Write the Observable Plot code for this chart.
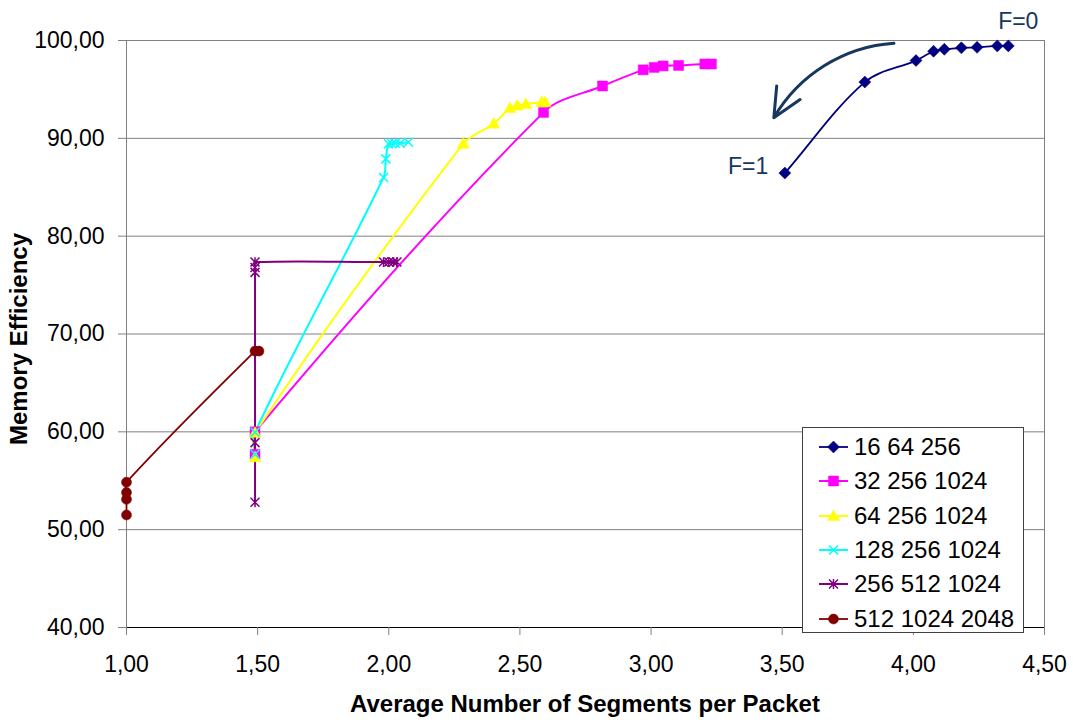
<!DOCTYPE html>
<html><head><meta charset="utf-8">
<script src="https://cdn.jsdelivr.net/npm/d3@7"></script>
<script src="https://cdn.jsdelivr.net/npm/@observablehq/plot@0.6"></script>
<style>
body{margin:0;background:#fff;font-family:"Liberation Sans",Arial,sans-serif;}
#wrap{position:relative;width:1073px;height:722px;overflow:hidden;}
#legend{position:absolute;left:802px;top:427px;width:222px;height:206px;border:1px solid #404040;background:#fff;box-sizing:border-box;}
.lrow{position:absolute;left:0;height:30px;display:flex;align-items:center;font-size:24px;color:#000;white-space:nowrap;}
.xtitle{position:absolute;left:126px;width:918px;top:689px;text-align:center;font-weight:bold;font-size:24px;line-height:30px;}
.ytitle{position:absolute;left:19px;top:339px;transform:translate(-50%,-50%) rotate(-90deg);font-weight:bold;font-size:24px;white-space:nowrap;}
</style></head><body><div id="wrap"></div>
<script>
// ---- data ----
const seriesNames = ["16 64 256", "32 256 1024", "64 256 1024", "128 256 1024", "256 512 1024", "512 1024 2048"];
const seriesColors = ["#000080", "#FF00FF", "#FFFF00", "#00FFFF", "#800080", "#800000"];

const s1X = [3.51, 3.815, 4.01, 4.077, 4.118, 4.183, 4.243, 4.32, 4.362];
const s1Y = [86.45, 95.75, 97.95, 98.9, 99.1, 99.25, 99.3, 99.45, 99.45];
const s2X = [1.49, 1.49, 2.59, 2.815, 2.97, 3.012, 3.046, 3.105, 3.205, 3.23];
const s2Y = [57.7, 60.0, 92.65, 95.35, 97.0, 97.25, 97.4, 97.45, 97.6, 97.6];
const s3X = [1.49, 1.49, 2.284, 2.40, 2.462, 2.49, 2.523, 2.583, 2.596];
const s3Y = [57.4, 59.9, 89.45, 91.5, 93.1, 93.35, 93.5, 93.7, 93.7];
const s4X = [1.49, 1.49, 1.98, 1.989, 1.999, 2.012, 2.024, 2.043, 2.075];
const s4Y = [57.7, 59.95, 86.0, 87.9, 89.45, 89.45, 89.5, 89.5, 89.6];
const s5X = [1.49, 1.49, 1.49, 1.49, 1.49, 1.98, 2.0, 2.018, 2.031];
const s5Y = [52.8, 58.9, 76.3, 76.8, 77.35, 77.35, 77.35, 77.35, 77.35];
const s6X = [1.0, 1.0, 1.0, 1.0, 1.49, 1.505];
const s6Y = [51.5, 53.1, 53.8, 54.85, 68.25, 68.25];

const xTicks = [1.0, 1.5, 2.0, 2.5, 3.0, 3.5, 4.0, 4.5];
const yTicks = [40, 50, 60, 70, 80, 90, 100];

const annoLabels = ["F=0", "F=1"];
const annoX = [4.40, 3.37];
const annoY = [101.9, 87.1];
const arrowFrom = [3.926, 99.72];
const arrowTo = [3.468, 92.1];

const xTitle = "Average Number of Segments per Packet";
const yTitle = "Memory Efficiency";

// ---- Excel-like smoothed line curve (Bezier, tangent scaled by segment length) ----
function curveExcel(context) {
  let pts;
  const K = 1;
  return {
    areaStart() {}, areaEnd() {},
    lineStart() { pts = []; },
    point(x, y) { pts.push([+x, +y]); },
    lineEnd() {
      const n = pts.length;
      if (!n) return;
      context.moveTo(pts[0][0], pts[0][1]);
      if (n === 1) return;
      const tang = pts.map((p, i) => {
        const a = pts[Math.max(0, i - 1)], b = pts[Math.min(n - 1, i + 1)];
        const dx = b[0] - a[0], dy = b[1] - a[1];
        const L = Math.hypot(dx, dy) || 1;
        return [dx / L, dy / L];
      });
      for (let i = 0; i < n - 1; i++) {
        const p = pts[i], q = pts[i + 1];
        const L = Math.hypot(q[0] - p[0], q[1] - p[1]) * K / 3;
        context.bezierCurveTo(p[0] + tang[i][0] * L, p[1] + tang[i][1] * L,
          q[0] - tang[i + 1][0] * L, q[1] - tang[i + 1][1] * L, q[0], q[1]);
      }
    }
  };
}

// ---- symbols (Excel-like markers) ----
const R = size => Math.sqrt(size / Math.PI);
const symDiamond = {draw(c, s){const r=R(s); c.moveTo(0,-r); c.lineTo(r,0); c.lineTo(0,r); c.lineTo(-r,0); c.closePath();}};
const symSquare = {draw(c, s){const r=R(s); c.rect(-r,-r,2*r,2*r);}};
const symTriangle = {draw(c, s){const r=R(s); c.moveTo(0,-r); c.lineTo(r,r*0.75); c.lineTo(-r,r*0.75); c.closePath();}};
const symTimes = {draw(c, s){const r=R(s); c.moveTo(-r,-r); c.lineTo(r,r); c.moveTo(r,-r); c.lineTo(-r,r);}};
const symStar = {draw(c, s){const r=R(s); c.moveTo(-r,-r); c.lineTo(r,r); c.moveTo(r,-r); c.lineTo(-r,r); c.moveTo(0,-r*1.1); c.lineTo(0,r*1.1);}};
const symCircle = {draw(c, s){const r=R(s); c.moveTo(r,0); c.arc(0,0,r,0,2*Math.PI);}};

const seriesSyms = [symDiamond, symSquare, symTriangle, symTimes, symStar, symCircle];
const seriesR = [6, 5, 6, 4.5, 4.5, 5];
const seriesFilled = [true, true, true, false, false, true];
const seriesLineW = [1.8, 2, 2, 2, 2, 1.8];

const allX = [s1X, s2X, s3X, s4X, s5X, s6X];
const allY = [s1Y, s2Y, s3Y, s4Y, s5Y, s6Y];
const series = allX.map((xs, i) => xs.map((x, j) => ({x, y: allY[i][j], i})));

const fmt = d => d.toFixed(2).replace(".", ",");

const marks = [
  Plot.ruleY(yTicks.filter(d => d > 40), {stroke: "#808080", strokeWidth: 1}),
  Plot.ruleX([4.5], {stroke: "#808080"}),
  Plot.ruleX([1], {stroke: "#808080"}),
  Plot.ruleY([40], {stroke: "#000"}),
  Plot.axisY({ticks: yTicks, tickFormat: fmt, tickSize: 8, tickPadding: 14, label: null, stroke: "#808080", fill: "#000"}),
  Plot.axisX({ticks: xTicks, tickFormat: fmt, tickSize: 8, tickPadding: 20, label: null, stroke: "#808080", fill: "#000"})
];
series.forEach((pts, i) => {
  marks.push(Plot.line(pts, {x: "x", y: "y", stroke: seriesColors[i], strokeWidth: seriesLineW[i], curve: curveExcel}));
});
series.forEach((pts, i) => {
  marks.push(Plot.dot(pts, {x: "x", y: "y", r: seriesR[i], symbol: seriesSyms[i],
    fill: seriesFilled[i] ? seriesColors[i] : "none",
    stroke: seriesColors[i], strokeWidth: seriesFilled[i] ? 0.5 : 1.5}));
});
marks.push(Plot.arrow([{x1: arrowFrom[0], y1: arrowFrom[1], x2: arrowTo[0], y2: arrowTo[1]}],
  {x1: "x1", y1: "y1", x2: "x2", y2: "y2", bend: -28, stroke: "#17375E", strokeWidth: 3, headLength: 16, headAngle: 50}));
marks.push(Plot.text(annoLabels.map((t, k) => ({t, x: annoX[k], y: annoY[k]})),
  {x: "x", y: "y", text: "t", fill: "#17375E", fontSize: 23, textAnchor: "middle"}));

const chart = Plot.plot({
  width: 1073, height: 722,
  marginLeft: 126, marginRight: 29, marginTop: 40, marginBottom: 95,
  x: {domain: [1, 4.5]},
  y: {domain: [40, 100]},
  style: {fontSize: "23px", fontFamily: "'Liberation Sans', Arial, sans-serif", background: "#fff", overflow: "visible"},
  marks
});
const wrap = document.getElementById("wrap");
wrap.appendChild(chart);

// legend
const leg = document.createElement("div");
leg.id = "legend";
wrap.appendChild(leg);
seriesNames.forEach((name, i) => {
  const row = document.createElement("div");
  row.className = "lrow";
  row.style.top = (19 + i * 34.3 - 15) + "px";
  const sv = d3.create("svg").attr("width", 50).attr("height", 30).style("flex", "none");
  sv.append("line").attr("x1", 16).attr("x2", 45).attr("y1", 15).attr("y2", 15)
    .attr("stroke", seriesColors[i]).attr("stroke-width", seriesLineW[i]);
  sv.append("path").attr("transform", "translate(30.5,15)")
    .attr("d", d3.symbol(seriesSyms[i], Math.PI * seriesR[i] * seriesR[i])())
    .attr("fill", seriesFilled[i] ? seriesColors[i] : "none")
    .attr("stroke", seriesColors[i]).attr("stroke-width", seriesFilled[i] ? 0.5 : 1.5);
  row.appendChild(sv.node());
  const tx = document.createElement("span");
  tx.textContent = name;
  tx.style.marginLeft = "1px";
  row.appendChild(tx);
  leg.appendChild(row);
});

const xt = document.createElement("div"); xt.className = "xtitle"; xt.textContent = xTitle; wrap.appendChild(xt);
const yt = document.createElement("div"); yt.className = "ytitle"; yt.textContent = yTitle; wrap.appendChild(yt);
</script></body></html>
